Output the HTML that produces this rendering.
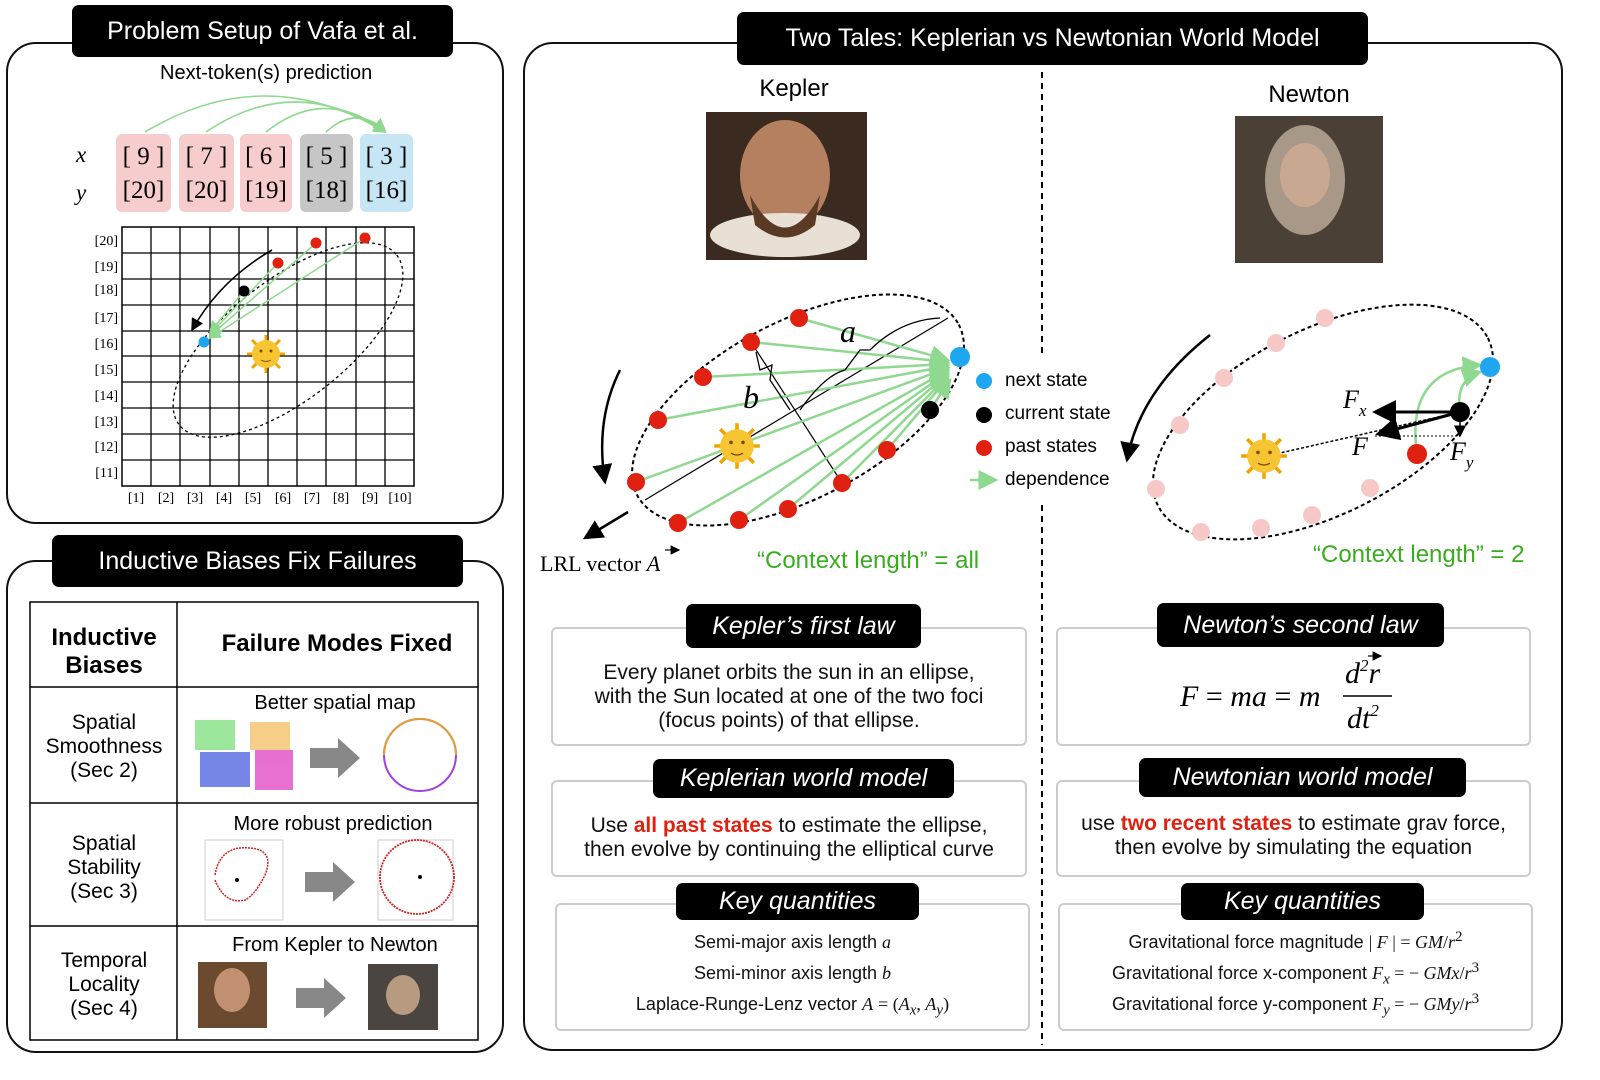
<!DOCTYPE html>
<html><head><meta charset="utf-8"><style>
body{margin:0;width:1600px;height:1080px;background:#fff;font-family:"Liberation Sans",sans-serif;overflow:hidden;position:relative}
.a{position:absolute}
.panel{position:absolute;border:2.5px solid #111;border-radius:30px;box-sizing:border-box}
.tt{position:absolute;background:#000;color:#fff;border-radius:7px;text-align:center;box-sizing:border-box}
.bx{position:absolute;border:2.5px solid #ccc;border-radius:6px;box-sizing:border-box;text-align:center;color:#111}
.ser{font-family:"Liberation Serif",serif}
</style></head><body>
<div class="panel" style="left:6px;top:42px;width:498px;height:482px"></div>
<div class="tt" style="left:72px;top:5px;width:381px;height:52px;font-size:25px;line-height:52px">Problem Setup of Vafa et al.</div>
<div class="panel" style="left:6px;top:560px;width:498px;height:493px"></div>
<div class="tt" style="left:52px;top:535px;width:411px;height:52px;font-size:25px;line-height:52px">Inductive Biases Fix Failures</div>
<div class="panel" style="left:523px;top:42px;width:1040px;height:1009px"></div>
<div class="tt" style="left:737px;top:12px;width:631px;height:53px;font-size:25px;line-height:53px">Two Tales: Keplerian vs Newtonian World Model</div>

<div class="a" style="left:160px;top:62px;font-size:20px">Next-token(s) prediction</div>
<div class="a ser" style="left:76px;top:142px;font-size:23px;font-style:italic">x</div>
<div class="a ser" style="left:76px;top:180px;font-size:23px;font-style:italic">y</div>
<div class="a" style="left:116px;top:134px;width:55px;height:78px;background:#f7cccc;border-radius:6px"></div>
<div class="a" style="left:179px;top:134px;width:55px;height:78px;background:#f7cccc;border-radius:6px"></div>
<div class="a" style="left:240px;top:134px;width:52px;height:78px;background:#f7cccc;border-radius:6px"></div>
<div class="a" style="left:300px;top:134px;width:53px;height:78px;background:#c6c6c6;border-radius:6px"></div>
<div class="a" style="left:360px;top:134px;width:53px;height:78px;background:#c6e6f6;border-radius:6px"></div>
<div class="a ser" style="left:116px;top:140px;width:55px;text-align:center;font-size:25px;line-height:34px">[ 9 ]<br>[20]</div>
<div class="a ser" style="left:179px;top:140px;width:55px;text-align:center;font-size:25px;line-height:34px">[ 7 ]<br>[20]</div>
<div class="a ser" style="left:240px;top:140px;width:52px;text-align:center;font-size:25px;line-height:34px">[ 6 ]<br>[19]</div>
<div class="a ser" style="left:300px;top:140px;width:53px;text-align:center;font-size:25px;line-height:34px">[ 5 ]<br>[18]</div>
<div class="a ser" style="left:360px;top:140px;width:53px;text-align:center;font-size:25px;line-height:34px">[ 3 ]<br>[16]</div>

<svg class="a" style="left:0;top:0" width="1600" height="1080">
<defs>
<marker id="g" markerWidth="8" markerHeight="8" refX="7" refY="4" orient="auto"><path d="M0,0L8,4L0,8z" fill="#8fd88f"/></marker>
<marker id="k" markerWidth="8" markerHeight="8" refX="7" refY="4" orient="auto"><path d="M0,0L8,4L0,8z" fill="#000"/></marker>
<g id="sun"><g stroke="#f0a500" stroke-width="3"><line x1="-19" y1="0" x2="19" y2="0"/><line x1="0" y1="-19" x2="0" y2="19"/><line x1="-14" y1="-14" x2="14" y2="14"/><line x1="-14" y1="14" x2="14" y2="-14"/></g><circle r="14" fill="#f7c531"/><circle cx="-5" cy="-3" r="1.5" fill="#7a4a00"/><circle cx="5" cy="-3" r="1.5" fill="#7a4a00"/><path d="M-5,6 Q0,9 5,6" stroke="#7a4a00" fill="none"/></g>
</defs>
<g stroke="#8fd88f" stroke-width="1.6" fill="none" marker-end="url(#g)">
<path d="M145,132 Q265,60 385,132"/><path d="M206,132 Q295,72 385,132"/><path d="M266,132 Q325,85 385,132"/><path d="M326,132 Q355,105 385,130"/>
</g>
<rect x="122" y="227" width="292" height="259" fill="none" stroke="#000" stroke-width="1.5"/>
<g stroke="#000" stroke-width="1.3">
<line x1="151" y1="227" x2="151" y2="486"/><line x1="180" y1="227" x2="180" y2="486"/><line x1="210" y1="227" x2="210" y2="486"/><line x1="239" y1="227" x2="239" y2="486"/><line x1="268" y1="227" x2="268" y2="486"/><line x1="297" y1="227" x2="297" y2="486"/><line x1="326" y1="227" x2="326" y2="486"/><line x1="356" y1="227" x2="356" y2="486"/><line x1="385" y1="227" x2="385" y2="486"/>
<line x1="122" y1="253" x2="414" y2="253"/><line x1="122" y1="279" x2="414" y2="279"/><line x1="122" y1="305" x2="414" y2="305"/><line x1="122" y1="331" x2="414" y2="331"/><line x1="122" y1="356" x2="414" y2="356"/><line x1="122" y1="382" x2="414" y2="382"/><line x1="122" y1="408" x2="414" y2="408"/><line x1="122" y1="434" x2="414" y2="434"/><line x1="122" y1="460" x2="414" y2="460"/>
</g>
<g font-family="Liberation Serif" font-size="14" text-anchor="end">
<text x="118" y="245">[20]</text><text x="118" y="271">[19]</text><text x="118" y="294">[18]</text><text x="118" y="322">[17]</text><text x="118" y="348">[16]</text><text x="118" y="374">[15]</text><text x="118" y="400">[14]</text><text x="118" y="426">[13]</text><text x="118" y="451">[12]</text><text x="118" y="477">[11]</text>
</g>
<g font-family="Liberation Serif" font-size="14" text-anchor="middle">
<text x="136" y="502">[1]</text><text x="166" y="502">[2]</text><text x="195" y="502">[3]</text><text x="224" y="502">[4]</text><text x="253" y="502">[5]</text><text x="283" y="502">[6]</text><text x="312" y="502">[7]</text><text x="341" y="502">[8]</text><text x="370" y="502">[9]</text><text x="400" y="502">[10]</text>
</g>
<ellipse cx="288" cy="340" rx="138" ry="60" transform="rotate(-38 288 340)" fill="none" stroke="#000" stroke-width="1.3" stroke-dasharray="3,3"/>
<g stroke="#8fd88f" stroke-width="1.5" marker-end="url(#g)"><line x1="365" y1="238" x2="210" y2="338"/><line x1="316" y1="243" x2="210" y2="336"/><line x1="278" y1="263" x2="210" y2="334"/><line x1="244" y1="291" x2="210" y2="332"/></g>
<path d="M272,250 Q220,280 192,330" stroke="#000" stroke-width="1.6" fill="none" marker-end="url(#k)"/>
<circle cx="365" cy="238" r="5.5" fill="#e02010"/><circle cx="316" cy="243" r="5.5" fill="#e02010"/><circle cx="278" cy="263" r="5.5" fill="#e02010"/><circle cx="244" cy="291" r="5.5" fill="#000"/><circle cx="204" cy="342" r="5.5" fill="#1ea7f0"/>
<use href="#sun" transform="translate(266,354)"/>

<g stroke="#000" stroke-width="1.5" fill="none"><rect x="30" y="602" width="448" height="438"/><line x1="177" y1="602" x2="177" y2="1040"/><line x1="30" y1="687" x2="478" y2="687"/><line x1="30" y1="803" x2="478" y2="803"/><line x1="30" y1="926" x2="478" y2="926"/></g>
<g font-family="Liberation Sans" text-anchor="middle">
<text x="104" y="645" font-size="24" font-weight="bold">Inductive</text><text x="104" y="673" font-size="24" font-weight="bold">Biases</text>
<text x="337" y="651" font-size="24" font-weight="bold">Failure Modes Fixed</text>
<text x="104" y="729" font-size="21">Spatial</text><text x="104" y="753" font-size="21">Smoothness</text><text x="104" y="777" font-size="21">(Sec 2)</text>
<text x="104" y="850" font-size="21">Spatial</text><text x="104" y="874" font-size="21">Stability</text><text x="104" y="898" font-size="21">(Sec 3)</text>
<text x="104" y="967" font-size="21">Temporal</text><text x="104" y="991" font-size="21">Locality</text><text x="104" y="1015" font-size="21">(Sec 4)</text>
<text x="335" y="709" font-size="20">Better spatial map</text>
<text x="333" y="830" font-size="20">More robust prediction</text>
<text x="335" y="951" font-size="20">From Kepler to Newton</text>
</g>
<g opacity="0.75"><rect x="195" y="720" width="40" height="30" fill="#7de07d"/><rect x="250" y="722" width="40" height="28" fill="#f2c060"/><rect x="200" y="752" width="50" height="35" fill="#4a60e0"/><rect x="255" y="750" width="38" height="40" fill="#e040c0"/></g>
<circle cx="420" cy="755" r="36" fill="none" stroke="#a040e0" stroke-width="2"/>
<path d="M384,755 A36,36 0 0 1 456,755" fill="none" stroke="#e0a030" stroke-width="2"/>
<g fill="#888"><path d="M310,748h28v-10l22,20l-22,20v-10h-28z"/><path d="M305,872h28v-10l22,20l-22,20v-10h-28z"/><path d="M296,988h28v-10l22,20l-22,20v-10h-28z"/></g>
<rect x="205" y="840" width="78" height="80" fill="none" stroke="#ccc"/>
<path d="M215,875 Q220,845 250,848 Q275,850 265,875 Q255,895 245,900 Q225,905 215,880" fill="none" stroke="#d02020" stroke-width="1.5" stroke-dasharray="2,1"/>
<circle cx="237" cy="880" r="2" fill="#000"/>
<rect x="378" y="840" width="75" height="80" fill="none" stroke="#ccc"/>
<circle cx="417" cy="877" r="37" fill="none" stroke="#d02020" stroke-width="1.8" stroke-dasharray="2,1"/><circle cx="420" cy="877" r="2" fill="#000"/>
<rect x="198" y="962" width="69" height="66" fill="#6b4a30"/><rect x="368" y="964" width="70" height="66" fill="#4a4540"/>
<ellipse cx="232" cy="990" rx="18" ry="22" fill="#c09070"/><ellipse cx="403" cy="995" rx="17" ry="20" fill="#b89a80"/>

<line x1="1042" y1="72" x2="1042" y2="355" stroke="#000" stroke-width="2" stroke-dasharray="6,5"/>
<line x1="1042" y1="505" x2="1042" y2="1045" stroke="#000" stroke-width="2" stroke-dasharray="6,5"/>
<text x="794" y="96" font-size="24" text-anchor="middle">Kepler</text>
<text x="1309" y="102" font-size="24" text-anchor="middle">Newton</text>
<rect x="706" y="112" width="161" height="148" fill="#3a2a20"/><ellipse cx="785" cy="175" rx="45" ry="55" fill="#b58060"/><ellipse cx="785" cy="235" rx="75" ry="22" fill="#e8e0d5"/><path d="M750,195 Q785,260 820,195 L815,225 Q785,250 755,225z" fill="#5a3a25"/>
<rect x="1235" y="116" width="148" height="147" fill="#4a4035"/><ellipse cx="1305" cy="180" rx="40" ry="55" fill="#a89888"/><ellipse cx="1305" cy="175" rx="25" ry="32" fill="#c8a890"/>

<ellipse cx="798" cy="410" rx="182" ry="88" transform="rotate(-28 798 410)" fill="none" stroke="#000" stroke-width="2" stroke-dasharray="4,3"/>
<line x1="645" y1="500" x2="948" y2="318" stroke="#000" stroke-width="1.2"/>
<line x1="751" y1="342" x2="842" y2="483" stroke="#000" stroke-width="1.2"/>
<g stroke="#8fd88f" stroke-width="2.5" marker-end="url(#g)">
<line x1="799" y1="318" x2="948" y2="360"/><line x1="751" y1="342" x2="948" y2="362"/><line x1="703" y1="377" x2="948" y2="364"/><line x1="658" y1="420" x2="948" y2="366"/><line x1="636" y1="482" x2="948" y2="368"/><line x1="678" y1="523" x2="948" y2="370"/><line x1="739" y1="520" x2="948" y2="372"/><line x1="788" y1="509" x2="948" y2="374"/><line x1="842" y1="483" x2="948" y2="376"/><line x1="887" y1="450" x2="948" y2="378"/><line x1="930" y1="410" x2="950" y2="380"/>
</g>
<path d="M940,318 Q900,320 870,350 L860,350 L845,370 Q825,375 800,410" fill="none" stroke="#000" stroke-width="1.3"/>
<path d="M756,352 L760,370 L772,365 L770,380 L790,410" fill="none" stroke="#000" stroke-width="1.3"/>
<text x="848" y="342" font-family="Liberation Serif" font-style="italic" font-size="32" text-anchor="middle">a</text>
<text x="751" y="408" font-family="Liberation Serif" font-style="italic" font-size="32" text-anchor="middle">b</text>
<g fill="#e02010"><circle cx="799" cy="318" r="9"/><circle cx="751" cy="342" r="9"/><circle cx="703" cy="377" r="9"/><circle cx="658" cy="420" r="9"/><circle cx="636" cy="482" r="9"/><circle cx="678" cy="523" r="9"/><circle cx="739" cy="520" r="9"/><circle cx="788" cy="509" r="9"/><circle cx="842" cy="483" r="9"/><circle cx="887" cy="450" r="9"/></g>
<circle cx="930" cy="410" r="9" fill="#000"/><circle cx="960" cy="357" r="10" fill="#1ea7f0"/>
<use href="#sun" transform="translate(737,446) scale(1.2)"/>
<path d="M620,370 Q595,420 605,482" fill="none" stroke="#000" stroke-width="2.5" marker-end="url(#k)"/>
<line x1="628" y1="512" x2="585" y2="538" stroke="#000" stroke-width="2.5" marker-end="url(#k)"/>
<circle cx="984" cy="381" r="8" fill="#1ea7f0"/><circle cx="984" cy="415" r="8" fill="#000"/><circle cx="984" cy="448" r="8" fill="#e02010"/>
<line x1="970" y1="480" x2="996" y2="480" stroke="#8fd88f" stroke-width="2.5" marker-end="url(#g)"/>
<g font-size="19"><text x="1005" y="386">next state</text><text x="1005" y="419">current state</text><text x="1005" y="452">past states</text><text x="1005" y="485">dependence</text></g>
<text x="540" y="571" font-family="Liberation Serif" font-size="22">LRL vector <tspan font-style="italic">A</tspan></text>
<line x1="665" y1="550" x2="679" y2="550" stroke="#000" stroke-width="1.2" marker-end="url(#k)"/>
<text x="757" y="568" font-size="24" fill="#3aac20">“Context length” = all</text>

<ellipse cx="1323" cy="422" rx="185" ry="92" transform="rotate(-27 1323 422)" fill="none" stroke="#000" stroke-width="2" stroke-dasharray="4,3"/>
<g fill="#f6c8c8"><circle cx="1325" cy="318" r="9"/><circle cx="1276" cy="343" r="9"/><circle cx="1224" cy="378" r="9"/><circle cx="1180" cy="425" r="9"/><circle cx="1156" cy="489" r="9"/><circle cx="1201" cy="532" r="9"/><circle cx="1261" cy="528" r="9"/><circle cx="1312" cy="515" r="9"/><circle cx="1370" cy="488" r="9"/></g>
<path d="M1417,454 Q1405,370 1480,365" fill="none" stroke="#8fd88f" stroke-width="2.5" marker-end="url(#g)"/>
<path d="M1460,412 Q1455,380 1480,372" fill="none" stroke="#8fd88f" stroke-width="2.5" marker-end="url(#g)"/>
<line x1="1267" y1="456" x2="1460" y2="412" stroke="#000" stroke-width="1.5" stroke-dasharray="3,2"/>
<line x1="1375" y1="436" x2="1460" y2="436" stroke="#000" stroke-width="1" stroke-dasharray="2,2"/>
<line x1="1460" y1="412" x2="1375" y2="412" stroke="#000" stroke-width="3" marker-end="url(#k)"/>
<line x1="1460" y1="412" x2="1378" y2="434" stroke="#000" stroke-width="3" marker-end="url(#k)"/>
<line x1="1460" y1="412" x2="1460" y2="436" stroke="#000" stroke-width="1.5" marker-end="url(#k)"/>
<circle cx="1417" cy="454" r="10" fill="#e02010"/><circle cx="1460" cy="412" r="10" fill="#000"/><circle cx="1490" cy="367" r="10" fill="#1ea7f0"/>
<use href="#sun" transform="translate(1264,456) scale(1.2)"/>
<g font-family="Liberation Serif" font-style="italic" font-size="26"><text x="1343" y="408">F<tspan font-size="17" dy="8">x</tspan></text><text x="1352" y="455">F</text><text x="1450" y="460">F<tspan font-size="17" dy="8">y</tspan></text></g>
<path d="M1210,335 Q1140,390 1127,460" fill="none" stroke="#000" stroke-width="2.5" marker-end="url(#k)"/>
<text x="1313" y="562" font-size="24" fill="#3aac20">“Context length” = 2</text>

<!-- Newton formula -->
<g font-family="Liberation Serif" font-size="30" font-style="italic">
<text x="1180" y="706">F <tspan font-style="normal">=</tspan> ma <tspan font-style="normal">=</tspan> m</text>
<text x="1345" y="683">d<tspan font-size="17" dy="-12">2</tspan><tspan dy="12">r</tspan></text>
<text x="1347" y="728">dt<tspan font-size="17" dy="-12">2</tspan></text>
</g>
<line x1="1343" y1="696" x2="1392" y2="696" stroke="#000" stroke-width="1.5"/>
<line x1="1368" y1="656" x2="1381" y2="656" stroke="#000" stroke-width="1.2" marker-end="url(#k)"/>
</svg>

<div class="bx" style="left:551px;top:627px;width:476px;height:119px;padding-top:32px;font-size:21px;line-height:24px">Every planet orbits the sun in an ellipse,<br>with the Sun located at one of the two foci<br>(focus points) of that ellipse.</div>
<div class="tt" style="left:686px;top:604px;width:235px;height:44px;font-size:25px;line-height:44px;font-style:italic">Kepler’s first law</div>
<div class="bx" style="left:1056px;top:627px;width:475px;height:119px;background:transparent"></div>
<div class="tt" style="left:1157px;top:603px;width:287px;height:44px;font-size:25px;line-height:44px;font-style:italic">Newton’s second law</div>

<div class="bx" style="left:551px;top:780px;width:476px;height:97px;padding-top:32px;font-size:21px;line-height:24px">Use <b style="color:#e02010">all past states</b> to estimate the ellipse,<br>then evolve by continuing the elliptical curve</div>
<div class="tt" style="left:653px;top:759px;width:301px;height:39px;font-size:25px;line-height:39px;font-style:italic">Keplerian world model</div>
<div class="bx" style="left:1056px;top:780px;width:475px;height:97px;padding-top:30px;font-size:21px;line-height:24px">use <b style="color:#e02010">two recent states</b> to estimate grav force,<br>then evolve by simulating the equation</div>
<div class="tt" style="left:1139px;top:758px;width:327px;height:39px;font-size:25px;line-height:39px;font-style:italic">Newtonian world model</div>

<div class="bx" style="left:555px;top:903px;width:475px;height:128px;padding-top:22px;font-size:18px;line-height:31px">Semi-major axis length <i class="ser">a</i><br>Semi-minor axis length <i class="ser">b</i><br>Laplace-Runge-Lenz vector <i class="ser">A</i> <span class="ser">= (<i>A<sub style="line-height:0">x</sub></i>, <i>A<sub style="line-height:0">y</sub></i>)</span></div>
<div class="tt" style="left:676px;top:883px;width:243px;height:37px;font-size:25px;line-height:37px;font-style:italic">Key quantities</div>
<div class="bx" style="left:1058px;top:903px;width:475px;height:128px;padding-top:22px;font-size:18px;line-height:31px">Gravitational force magnitude <span class="ser">| <i>F</i> | = <i>GM</i>/<i>r</i><sup style="line-height:0">2</sup></span><br>Gravitational force x-component <span class="ser"><i>F<sub style="line-height:0">x</sub></i> = − <i>GMx</i>/<i>r</i><sup style="line-height:0">3</sup></span><br>Gravitational force y-component <span class="ser"><i>F<sub style="line-height:0">y</sub></i> = − <i>GMy</i>/<i>r</i><sup style="line-height:0">3</sup></span></div>
<div class="tt" style="left:1181px;top:883px;width:243px;height:37px;font-size:25px;line-height:37px;font-style:italic">Key quantities</div>
</body></html>
